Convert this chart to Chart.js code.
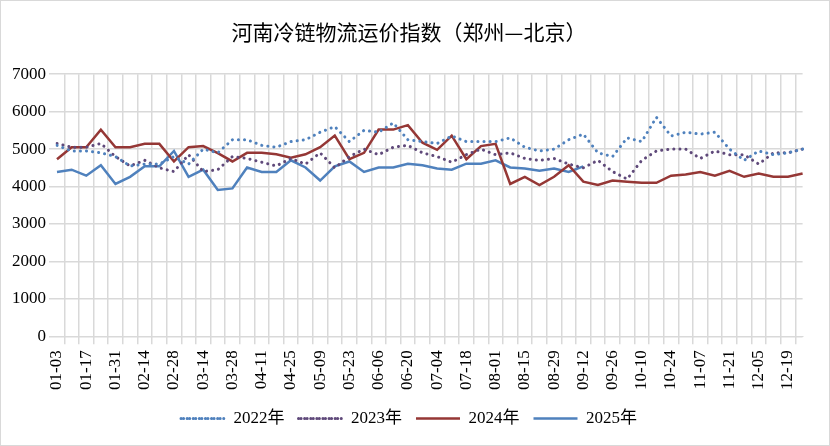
<!DOCTYPE html>
<html>
<head>
<meta charset="utf-8">
<script src="https://cdn.jsdelivr.net/npm/chart.js@4"></script>
<style>
  body { margin: 0; background: #fff; }
  #wrap { width: 828px; height: 444px; border: 1px solid #d9d9d9; }
</style>
</head>
<body>
<div id="wrap"><canvas id="c" width="828" height="444"></canvas></div>
<script>
// 주간 날짜 (52주)
const weeks = [];
for (let m = 0, d = new Date(2022, 0, 3); m < 52; m++, d.setDate(d.getDate() + 7)) {
    weeks.push(String(d.getMonth() + 1).padStart(2, '0') + '-' + String(d.getDate()).padStart(2, '0'));
}
const yTicks = [0, 1000, 2000, 3000, 4000, 5000, 6000, 7000];

const v2022 = [5100,4950,4950,4900,4800,4550,4600,4600,4800,4600,5000,4900,5250,5250,5100,5050,5200,5250,5450,5600,
    5200,5500,5450,5700,5250,5200,5150,5350,5200,5200,5200,5300,5050,4950,5000,5250,5400,4900,4800,5300,
    5200,5850,5350,5450,5400,5450,5000,4700,4950,4850,4900,5000];
const v2023 = [5150,5050,5050,5150,4800,4550,4700,4500,4400,4850,4400,4450,4800,4750,4650,4550,4750,4600,4900,4500,
    4800,5000,4850,5050,5100,4900,4800,4650,4850,5000,4850,4900,4750,4700,4750,4600,4500,4700,4400,4200,
    4700,4950,5000,5000,4750,4950,4850,4850,4600,4900,4900,5000];
const v2024 = [4730,5050,5050,5520,5050,5050,5140,5140,4670,5050,5080,4890,4670,4900,4900,4860,4770,4860,5050,5360,
    4730,4900,5520,5520,5640,5170,4980,5360,4730,5080,5140,4070,4260,4040,4260,4570,4130,4040,4160,4130,
    4100,4100,4290,4320,4390,4290,4420,4260,4350,4260,4260,4350];
const v2025 = [4390,4450,4290,4570,4070,4260,4540,4540,4950,4260,4450,3910,3950,4510,4390,4390,4700,4510,4160,4540,
    4670,4390,4510,4510,4610,4570,4480,4450,4610,4610,4700,4510,4480,4420,4480,4390,4540];

const serif = '"Liberation Serif", "Noto Sans CJK SC", serif';

new Chart(document.getElementById('c'), {
    type: 'line',
    data: {
        labels: weeks,
        datasets: [
            { label: '2022年', data: v2022, borderColor: '#4f81bd', backgroundColor: 'transparent', borderWidth: 3, borderDash: [0.1, 6], borderCapStyle: 'round' },
            { label: '2023年', data: v2023, borderColor: '#5f497a', backgroundColor: 'transparent', borderWidth: 3, borderDash: [0.1, 6], borderCapStyle: 'round' },
            { label: '2024年', data: v2024, borderColor: '#953735', backgroundColor: 'transparent', borderWidth: 2.5 },
            { label: '2025年', data: v2025, borderColor: '#4f81bd', backgroundColor: 'transparent', borderWidth: 2.5 }
        ]
    },
    options: {
        responsive: false,
        animation: false,
        layout: { padding: { left: 8, right: 20, top: 6, bottom: 8 } },
        elements: { point: { radius: 0 }, line: { tension: 0 } },
        plugins: {
            title: {
                display: true, text: '河南冷链物流运价指数（郑州—北京）', color: '#000',
                font: { family: '"Noto Sans CJK SC", serif', size: 21, weight: 'normal' },
                padding: { top: 12, bottom: 30 }
            },
            legend: {
                position: 'bottom',
                labels: {
                    boxWidth: 44, boxHeight: 0, color: '#000',
                    font: { family: serif, size: 17 }, padding: 14
                }
            },
            tooltip: { enabled: false }
        },
        scales: {
            x: {
                grid: { color: '#d9d9d9', lineWidth: 1.5, offset: true },
                border: { color: '#d9d9d9' },
                ticks: {
                    autoSkip: false, maxRotation: 90, minRotation: 90, color: '#000',
                    font: { family: serif, size: 17 }, padding: 6,
                    callback: (v, i) => i % 2 === 0 ? weeks[i] : ''
                }
            },
            y: {
                min: 0, max: 7000,
                afterBuildTicks: ax => { ax.ticks = yTicks.map(v => ({ value: v })); },
                grid: { color: '#d9d9d9', lineWidth: 1.5 },
                border: { display: false },
                ticks: { color: '#000', font: { family: serif, size: 17 }, callback: v => String(v) }
            }
        }
    }
});
</script>
</body>
</html>
